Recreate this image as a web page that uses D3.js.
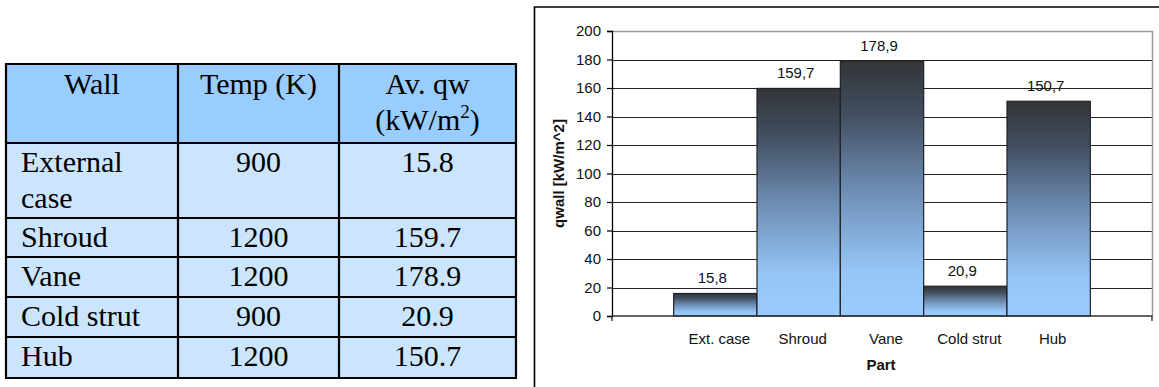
<!DOCTYPE html>
<html>
<head>
<meta charset="utf-8">
<script src="https://cdn.jsdelivr.net/npm/d3@7"></script>
<style>
  html, body { margin: 0; padding: 0; background: #fff; }
  svg { display: block; }
</style>
</head>
<body>
<svg id="fig" width="1159" height="387"></svg>
<script>
// ---- data -------------------------------------------------------------
const parts = ["Ext. case", "Shroud", "Vane", "Cold strut", "Hub"];
const qwall = [15.8, 159.7, 178.9, 20.9, 150.7];
const yTicks = [0, 20, 40, 60, 80, 100, 120, 140, 160, 180, 200];

const walls = ["External case", "Shroud", "Vane", "Cold strut", "Hub"];
const temps = [900, 1200, 1200, 900, 1200];
const avgQw = [15.8, 159.7, 178.9, 20.9, 150.7];
const headers = ["Wall", "Temp (K)", "Av. qw"];

const svg = d3.select("#fig");

// ---- table ------------------------------------------------------------
const colEdges = [6, 178, 339, 516];
const rowEdges = [64, 143, 218, 257, 297, 337, 378];
const serif = "'Liberation Serif', 'Times New Roman', serif";
const tbl = svg.append("g").attr("font-family", serif).attr("font-size", 30).attr("fill", "#000");

// cell backgrounds
tbl.append("rect")
  .attr("x", colEdges[0]).attr("y", rowEdges[0])
  .attr("width", colEdges[3] - colEdges[0]).attr("height", rowEdges[1] - rowEdges[0])
  .attr("fill", "#99ccff");
tbl.append("rect")
  .attr("x", colEdges[0]).attr("y", rowEdges[1])
  .attr("width", colEdges[3] - colEdges[0]).attr("height", rowEdges[6] - rowEdges[1])
  .attr("fill", "#cce5ff");

// header text
const colCenter = i => (colEdges[i] + colEdges[i + 1]) / 2;
tbl.append("text").attr("x", colCenter(0)).attr("y", 94).attr("text-anchor", "middle").text(headers[0]);
tbl.append("text").attr("x", colCenter(1)).attr("y", 94).attr("text-anchor", "middle").text(headers[1]);
tbl.append("text").attr("x", colCenter(2)).attr("y", 94).attr("text-anchor", "middle").text(headers[2]);
const unit = tbl.append("text").attr("x", colCenter(2)).attr("y", 130).attr("text-anchor", "middle");
unit.append("tspan").text("(kW/m");
unit.append("tspan").attr("font-size", 19).attr("dy", -12).text("2");
unit.append("tspan").attr("dy", 12).text(")");

// body rows
const lineGap = 36;
walls.forEach((w, i) => {
  const top = rowEdges[i + 1];
  const base = top + 29;
  const t = tbl.append("text").attr("x", colEdges[0] + 15).attr("y", base);
  // wrap long names onto several lines within the first column
  const words = w.split(" ");
  let line = [];
  let tspan = t.append("tspan").attr("x", colEdges[0] + 15).attr("y", base);
  let lineNo = 0;
  words.forEach(word => {
    line.push(word);
    tspan.text(line.join(" "));
    if (tspan.node().getComputedTextLength() > colEdges[1] - colEdges[0] - 20 && line.length > 1) {
      line.pop();
      tspan.text(line.join(" "));
      line = [word];
      lineNo++;
      tspan = t.append("tspan").attr("x", colEdges[0] + 15).attr("y", base + lineNo * lineGap).text(word);
    }
  });
  tbl.append("text").attr("x", colCenter(1)).attr("y", base).attr("text-anchor", "middle").text(temps[i]);
  tbl.append("text").attr("x", colCenter(2)).attr("y", base).attr("text-anchor", "middle").text(d3.format(".1f")(avgQw[i]));
});

// grid lines of the table
const grid = tbl.append("g").attr("stroke", "#000").attr("stroke-width", 2.2);
rowEdges.forEach(y => grid.append("line").attr("x1", colEdges[0] - 1).attr("x2", colEdges[3] + 1).attr("y1", y).attr("y2", y));
colEdges.forEach(x => grid.append("line").attr("x1", x).attr("x2", x).attr("y1", rowEdges[0]).attr("y2", rowEdges[6]));

// ---- chart ------------------------------------------------------------
const sans = "'Liberation Sans', Arial, sans-serif";
const fs = 15;
const chart = svg.append("g").attr("font-family", sans);

// outer frame of the chart area
chart.append("path")
  .attr("d", "M534.5,400 V7 H1160")
  .attr("fill", "none").attr("stroke", "#000").attr("stroke-width", 1.6);

const plot = { left: 612, right: 1152, top: 31, bottom: 316 };

const x = d3.scaleBand().domain(parts).range([plot.left, plot.right]).paddingInner(0).paddingOuter(0.74);
const y = d3.scaleLinear().domain([0, 200]).range([plot.bottom, plot.top]);

// bar fill: dark at the top fading to light blue
const defs = svg.append("defs");
const grad = defs.append("linearGradient").attr("id", "barFill")
  .attr("x1", 0).attr("y1", 0).attr("x2", 0).attr("y2", 1);
[[0, "#333538"], [0.2, "#414d5e"], [0.5, "#6d8cb2"], [0.82, "#95c5f6"], [1, "#99ccff"]]
  .forEach(([o, c]) => grad.append("stop").attr("offset", o).attr("stop-color", c));

// horizontal grid lines
chart.append("g").selectAll("line").data(yTicks.filter(t => t > 0 && t < 200)).join("line")
  .attr("x1", plot.left).attr("x2", plot.right)
  .attr("y1", d => Math.round(y(d)) + 0.5).attr("y2", d => Math.round(y(d)) + 0.5)
  .attr("stroke", "#222").attr("stroke-width", 1.2);

// plot border (top and right)
chart.append("path")
  .attr("d", `M${plot.left},${plot.top + 0.5} H${plot.right + 0.5} V${plot.bottom}`)
  .attr("fill", "none").attr("stroke", "#999").attr("stroke-width", 1.5);

// bars
chart.append("g").selectAll("rect").data(parts).join("rect")
  .attr("x", d => x(d))
  .attr("y", (d, i) => y(qwall[i]))
  .attr("width", x.bandwidth())
  .attr("height", (d, i) => y(0) - y(qwall[i]))
  .attr("fill", "url(#barFill)")
  .attr("stroke", "#1e2226").attr("stroke-width", 1.2);

// value labels
const comma = v => d3.format(".1f")(v).replace(".", ",");
chart.append("g").selectAll("text").data(parts).join("text")
  .attr("x", d => x(d) + x.bandwidth() / 2 - 3)
  .attr("y", (d, i) => y(qwall[i]) - 10)
  .attr("text-anchor", "middle")
  .attr("font-size", fs).attr("fill", "#111")
  .text((d, i) => comma(qwall[i]));

// y axis
const yAxis = chart.append("g").attr("transform", `translate(${plot.left},0)`)
  .call(d3.axisLeft(y).tickValues(yTicks).tickSize(5).tickPadding(6).tickFormat(d3.format("d")));
yAxis.select(".domain").attr("stroke", "#000").attr("stroke-width", 1.3);
yAxis.selectAll(".tick line").attr("stroke", "#000").attr("stroke-width", 1.2);
yAxis.selectAll(".tick text").attr("font-family", sans).attr("font-size", fs).attr("fill", "#111");

// x axis
const xAxis = chart.append("g").attr("transform", `translate(0,${plot.bottom})`)
  .call(d3.axisBottom(x).tickSize(0).tickPadding(17));
xAxis.select(".domain").attr("stroke", "#333").attr("stroke-width", 1.4)
  .attr("d", `M${plot.left},5V0H${plot.right}V5`);
xAxis.selectAll(".tick text").attr("font-family", sans).attr("font-size", fs).attr("fill", "#111")
  .attr("dx", 4);

// axis titles
chart.append("text")
  .attr("x", 881).attr("y", 370)
  .attr("text-anchor", "middle").attr("font-size", 15).attr("font-weight", "bold").attr("fill", "#111")
  .text("Part");
chart.append("text")
  .attr("transform", `translate(564,${(plot.top + plot.bottom) / 2}) rotate(-90)`)
  .attr("text-anchor", "middle").attr("font-size", 15).attr("font-weight", "bold").attr("fill", "#111")
  .text("qwall [kW/m^2]");
</script>
</body>
</html>
